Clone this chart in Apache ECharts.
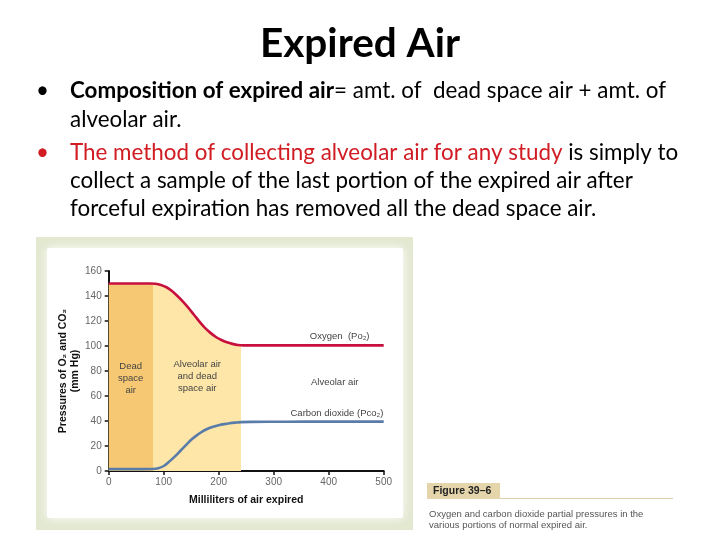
<!DOCTYPE html>
<html><head><meta charset="utf-8">
<script src="https://cdn.jsdelivr.net/npm/echarts@6/dist/echarts.min.js"></script>
<style>html,body{margin:0;padding:0;background:#fff}#c{width:720px;height:540px}</style>
</head><body><div id="c"></div>
<script>
// ---- data ----
const oxygenX = [0, 20, 40, 60, 75, 85, 95, 105, 115, 125, 135, 145, 155, 165, 175, 185, 195, 205, 215, 225, 235, 245, 270, 320, 400, 500];
const oxygenY = [150, 150, 150, 150, 150, 149.8, 148.8, 147, 144, 140, 135.5, 130.5, 125, 119.5, 114.5, 110.5, 107.2, 104.8, 103, 101.7, 100.8, 100.5, 100.5, 100.5, 100.5, 100.5];
const co2X = [0, 20, 40, 60, 80, 90, 100, 110, 120, 130, 140, 150, 160, 170, 180, 190, 200, 210, 220, 230, 240, 260, 320, 400, 500];
const co2Y = [1.5, 1.5, 1.5, 1.5, 1.6, 2.2, 4, 7.5, 11.5, 16, 20.5, 25, 28.5, 31.5, 33.8, 35.4, 36.6, 37.5, 38.2, 38.7, 39.1, 39.3, 39.4, 39.5, 39.5];
const deadSpaceEnd = 80;
const mixedEnd = 240;
const xTicks = [0, 100, 200, 300, 400, 500];
const yTicks = [0, 20, 40, 60, 80, 100, 120, 140, 160];
const annotations = [
  {name: 'Oxygen  (Po\u2082)', coord: [420, 108]},
  {name: 'Alveolar air', coord: [411, 71]},
  {name: 'Carbon dioxide (Pco\u2082)', coord: [415, 46.5]},
  {name: 'Dead\nspace\nair', coord: [40, 74]},
  {name: 'Alveolar air\nand dead\nspace air', coord: [161, 76]}
];

const chart = echarts.init(document.getElementById('c'));
const xMax = xTicks[xTicks.length - 1];
const f1 = deadSpaceEnd / xMax, f2 = mixedEnd / xMax;
const textFont = 'Lato, "Open Sans", sans-serif';
const red = '#d01c22';
const fs = '22.4px ';

chart.setOption({
  animation: false,
  backgroundColor: '#fff',
  grid: {left: 108.7, right: 336.3, top: 271, bottom: 69, containLabel: false},
  xAxis: {
    type: 'value', min: 0, max: xMax, interval: 100,
    name: 'Milliliters of air expired', nameLocation: 'middle', nameGap: 24,
    nameTextStyle: {fontFamily: 'Liberation Sans, Arial', fontWeight: 'bold', fontSize: 10.5, color: '#111'},
    axisLine: {lineStyle: {color: '#111', width: 2}},
    axisTick: {show: true, length: 4, lineStyle: {color: '#111', width: 1.5}},
    axisLabel: {fontFamily: 'Liberation Sans, Arial', fontSize: 10, color: '#666', margin: 6},
    splitLine: {show: false}
  },
  yAxis: {
    type: 'value', min: 0, max: 160, interval: 20,
    name: 'Pressures of O\u2082 and CO\u2082\n(mm Hg)', nameLocation: 'middle', nameGap: 24, nameRotate: 90,
    nameTextStyle: {fontFamily: 'Liberation Sans, Arial', fontWeight: 'bold', fontSize: 10.5, color: '#111', lineHeight: 12},
    axisLine: {show: true, lineStyle: {color: '#111', width: 2}},
    axisTick: {show: true, length: 4, lineStyle: {color: '#111', width: 1.5}},
    axisLabel: {fontFamily: 'Liberation Sans, Arial', fontSize: 10, color: '#666', margin: 7},
    splitLine: {show: false}
  },
  series: [
    {
      type: 'line', name: 'Oxygen', smooth: 0.3, symbol: 'none', z: 3,
      data: oxygenX.map((x, i) => [x, oxygenY[i]]),
      lineStyle: {color: '#c8103e', width: 2.6},
      areaStyle: {
        opacity: 1, origin: 'start',
        color: new echarts.graphic.LinearGradient(0, 0, 1, 0, [
          {offset: 0, color: '#f6c873'}, {offset: f1, color: '#f6c873'},
          {offset: f1, color: '#fde6a8'}, {offset: f2, color: '#fde6a8'},
          {offset: f2, color: 'rgba(255,255,255,0)'}, {offset: 1, color: 'rgba(255,255,255,0)'}
        ])
      },
      markPoint: {
        symbol: 'circle', symbolSize: 0, silent: true,
        label: {show: true, position: 'inside', formatter: p => p.name,
          fontFamily: 'Liberation Sans, Arial', fontSize: 9.5, color: '#444', lineHeight: 12},
        data: annotations.map(a => ({name: a.name, coord: a.coord}))
      }
    },
    {
      type: 'line', name: 'Carbon dioxide', smooth: 0.3, symbol: 'none', z: 4,
      data: co2X.map((x, i) => [x, co2Y[i]]),
      lineStyle: {color: '#5a7ca8', width: 2.6}
    }
  ],
  graphic: [
    {type: 'rect', z: -10, shape: {x: 36, y: 237, width: 377, height: 293}, style: {fill: '#e3e8d1'}},
    {type: 'rect', z: -9, shape: {x: 47, y: 248, width: 356, height: 270, r: 2},
      style: {fill: '#fff', shadowBlur: 10, shadowColor: 'rgba(255,255,255,1)'}},
    {type: 'text', x: 360, y: 44, style: {text: 'Expired Air', font: 'bold 40.5px ' + textFont, fill: '#000', align: 'center', verticalAlign: 'middle'}},
    {type: 'text', x: 36, y: 91, style: {
      text: '{b|\u2022}{bb|Composition of expired air}{n|= amt. of  dead space air + amt. of}',
      verticalAlign: 'middle',
      rich: {
        b: {font: fs + textFont, fill: '#000', width: 34},
        bb: {font: 'bold ' + fs + textFont, fill: '#000'},
        n: {font: fs + textFont, fill: '#000'}
      }
    }},
    {type: 'text', x: 70, y: 120, style: {text: 'alveolar air.', font: fs + textFont, fill: '#000', verticalAlign: 'middle'}},
    {type: 'text', x: 36, y: 153, style: {
      text: '{b|\u2022}{r|The method of collecting alveolar air for any study}{n| is simply to}',
      verticalAlign: 'middle',
      rich: {
        b: {font: fs + textFont, fill: red, width: 34},
        r: {font: fs + textFont, fill: red},
        n: {font: fs + textFont, fill: '#000'}
      }
    }},
    {type: 'text', x: 70, y: 181, style: {text: 'collect a sample of the last portion of the expired air after', font: fs + textFont, fill: '#000', verticalAlign: 'middle'}},
    {type: 'text', x: 70, y: 209, style: {text: 'forceful expiration has removed all the dead space air.', font: fs + textFont, fill: '#000', verticalAlign: 'middle'}},
    {type: 'rect', shape: {x: 427, y: 483, width: 73, height: 16}, style: {fill: '#e5d5ab'}},
    {type: 'line', shape: {x1: 500, y1: 498.5, x2: 673, y2: 498.5}, style: {stroke: '#d9cfae', lineWidth: 1}},
    {type: 'text', x: 433, y: 486, style: {text: 'Figure 39\u20136', font: 'bold 10.5px "Liberation Sans Narrow", "Liberation Sans", Arial', fill: '#222'}},
    {type: 'text', x: 429, y: 509, style: {text: 'Oxygen and carbon dioxide partial pressures in the\nvarious portions of normal expired air.', font: '9.5px "Liberation Sans", Arial', fill: '#555', lineHeight: 11}}
  ]
});
</script></body></html>
